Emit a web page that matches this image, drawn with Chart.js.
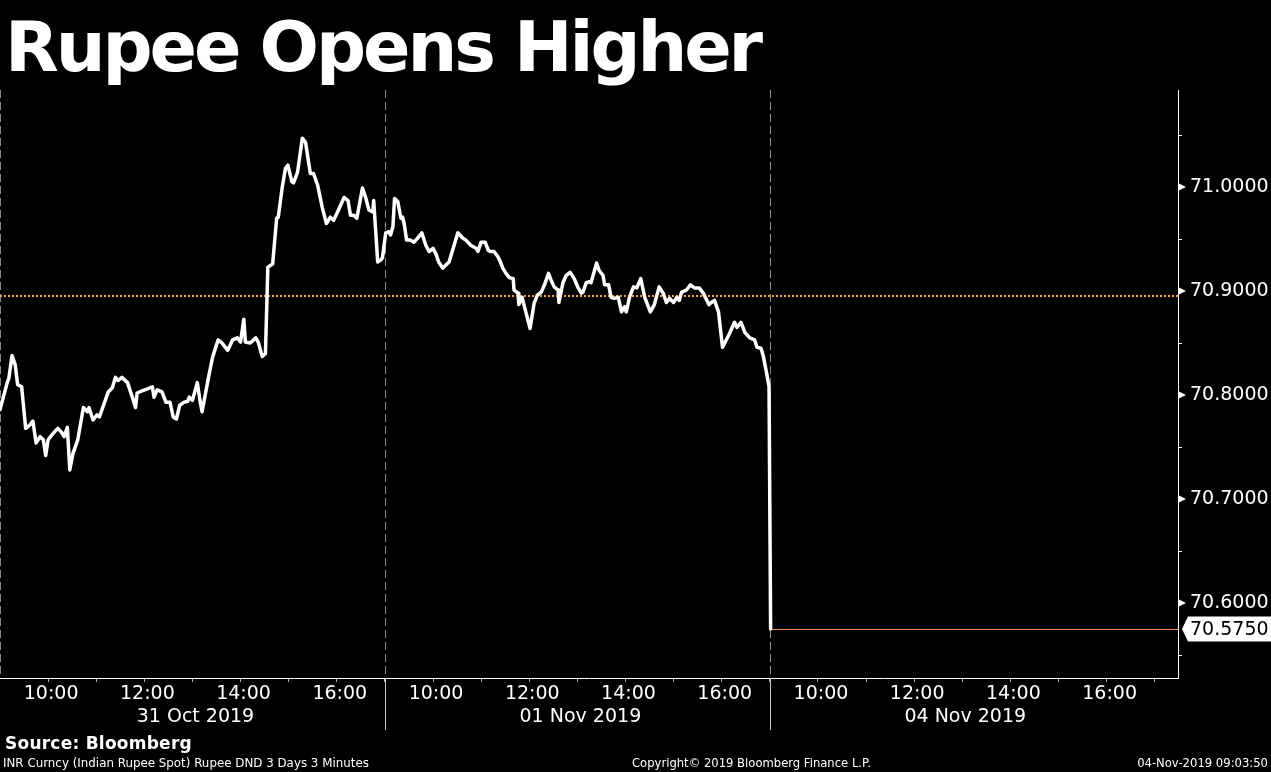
<!DOCTYPE html>
<html><head><meta charset="utf-8">
<script src="https://cdn.jsdelivr.net/npm/chart.js@4.4.1/dist/chart.umd.min.js"></script>
<style>
html,body{margin:0;padding:0;background:#000;}
#wrap{position:relative;width:1271px;height:772px;overflow:hidden;background:#000;}
canvas{position:absolute;left:0;top:0;}
.t{position:absolute;color:#fff;white-space:nowrap;font-family:'DejaVu Sans',sans-serif;}
#title{left:5px;top:12px;font-size:70px;font-weight:bold;line-height:70px;}
#source{left:5px;top:733px;font-size:17px;font-weight:bold;line-height:20px;}
.foot{top:756px;font-size:11px;line-height:14px;}
</style></head>
<body><div id="wrap">
<canvas id="c" width="1271" height="772"></canvas>
<div class="t" id="title" data-w="755" data-mode="ls">Rupee Opens Higher</div>
<div class="t" id="source" data-w="187" data-mode="ls">Source: Bloomberg</div>
<div class="t foot" data-w="366" data-mode="fs" style="left:3px">INR Curncy (Indian Rupee Spot) Rupee DND 3 Days 3 Minutes</div>
<div class="t foot" data-w="239" data-mode="fs" style="left:632px">Copyright© 2019 Bloomberg Finance L.P.</div>
<div class="t foot" data-w="131" data-mode="fs" style="right:3px">04-Nov-2019 09:03:50</div>
</div>
<script>
// ---- data (3-minute bars, minutes after 09:00 for each session) ----
const sessionLabels = ['31 Oct 2019', '01 Nov 2019', '04 Nov 2019'];
const hourLabels = ['10:00', '12:00', '14:00', '16:00'];
const prevClose = 70.895;

const oct31Minutes = [
  0, 9, 11, 15, 19, 22, 27, 32, 37, 41,
  45, 50, 54, 57, 60, 65, 72, 77, 80, 84,
  87, 91, 97, 104, 109, 111, 116, 121, 124, 129,
  135, 140, 144, 147, 152, 159, 165, 169, 171, 177,
  184, 190, 192, 196, 202, 207, 212, 216, 220, 224,
  229, 234, 236, 240, 246, 250, 252, 260, 265, 269,
  272, 277, 284, 290, 296, 300, 304, 306, 312, 319,
  322, 327, 331, 334, 340, 345, 347, 352, 356, 359,
  364, 366, 371, 377, 381, 387, 391, 396, 402, 407,
  412, 416, 421, 429, 434, 437, 441, 445, 452, 456,
  460, 465, 466, 471, 475, 477
];
const oct31Values = [
  70.786, 70.812, 70.816, 70.838, 70.829, 70.810, 70.808, 70.768, 70.771, 70.775,
  70.754, 70.760, 70.757, 70.742, 70.757, 70.762, 70.768, 70.764, 70.760, 70.769,
  70.728, 70.744, 70.757, 70.788, 70.784, 70.788, 70.776, 70.781, 70.779, 70.790,
  70.803, 70.807, 70.817, 70.814, 70.817, 70.812, 70.798, 70.788, 70.802, 70.804,
  70.806, 70.808, 70.798, 70.805, 70.803, 70.793, 70.793, 70.779, 70.777, 70.790,
  70.793, 70.794, 70.798, 70.795, 70.812, 70.792, 70.784, 70.817, 70.836, 70.846,
  70.853, 70.850, 70.843, 70.853, 70.855, 70.851, 70.873, 70.851, 70.850, 70.855,
  70.851, 70.837, 70.840, 70.923, 70.926, 70.970, 70.971, 71.000, 71.018, 71.021,
  71.005, 71.004, 71.014, 71.047, 71.043, 71.013, 71.013, 71.002, 70.980, 70.965,
  70.971, 70.968, 70.976, 70.990, 70.987, 70.973, 70.973, 70.970, 70.999, 70.990,
  70.978, 70.976, 70.987, 70.928, 70.930, 70.932
];
const nov1Minutes = [
  1, 5, 7, 10, 12, 16, 20, 22, 24, 27,
  32, 36, 41, 46, 51, 55, 60, 64, 67, 72,
  76, 80, 91, 97, 101, 107, 114, 116, 120, 125,
  129, 132, 136, 141, 144, 147, 151, 155, 160, 161,
  166, 167, 171, 174, 181, 186, 190, 195, 199, 204,
  207, 211, 216, 217, 222, 226, 231, 236, 241, 245,
  247, 251, 255, 257, 264, 267, 272, 274, 279, 282,
  286, 291, 295, 299, 301, 305, 310, 314, 319, 324,
  331, 336, 342, 347, 351, 355, 360, 364, 367, 370,
  376, 381, 386, 392, 397, 404, 407, 411, 416, 421,
  429, 436, 439, 444, 449, 455, 461, 464, 469, 472,
  476, 479
];
const nov1Values = [
  70.956, 70.957, 70.954, 70.962, 70.989, 70.986, 70.970, 70.971, 70.965, 70.949,
  70.949, 70.947, 70.951, 70.956, 70.944, 70.938, 70.941, 70.935, 70.928, 70.922,
  70.925, 70.928, 70.956, 70.951, 70.949, 70.944, 70.941, 70.938, 70.947, 70.947,
  70.939, 70.938, 70.938, 70.933, 70.928, 70.922, 70.917, 70.913, 70.912, 70.901,
  70.898, 70.887, 70.894, 70.885, 70.864, 70.888, 70.896, 70.899, 70.906, 70.917,
  70.911, 70.904, 70.901, 70.889, 70.908, 70.915, 70.918, 70.912, 70.903, 70.898,
  70.899, 70.908, 70.909, 70.908, 70.927, 70.920, 70.915, 70.906, 70.906, 70.894,
  70.893, 70.894, 70.880, 70.885, 70.880, 70.894, 70.904, 70.903, 70.912, 70.894,
  70.880, 70.887, 70.904, 70.898, 70.889, 70.893, 70.889, 70.894, 70.891, 70.899,
  70.901, 70.906, 70.903, 70.903, 70.898, 70.887, 70.889, 70.891, 70.880, 70.846,
  70.858, 70.870, 70.865, 70.870, 70.860, 70.855, 70.853, 70.846, 70.845, 70.837,
  70.821, 70.808
];
const nov4Minutes = [1];
const nov4Values = [70.575];

// ---- build ----
const SESSION = 480; // 09:00 - 17:00
const sessions = [[oct31Minutes, oct31Values], [nov1Minutes, nov1Values], [nov4Minutes, nov4Values]];
const points = [];
sessions.forEach(([ms, vs], d) => ms.forEach((m, i) => points.push({x: d * SESSION + m, y: vs[i]})));
const lastPoint = points[points.length - 1];

const FONT = "'DejaVu Sans', sans-serif";
Chart.defaults.font.family = FONT;

const overlay = {
  id: 'overlay',
  beforeDatasetsDraw(chart) {
    const {ctx, chartArea: a, scales: {x, y}} = chart;
    ctx.save();
    ctx.lineWidth = 1;
    ctx.strokeStyle = '#8a8a8a';
    ctx.setLineDash([8, 4]);
    sessions.forEach((s, d) => {
      const px = Math.round(x.getPixelForValue(d * SESSION)) + 0.5;
      ctx.beginPath(); ctx.moveTo(px, a.top); ctx.lineTo(px, a.bottom); ctx.stroke();
    });
    ctx.strokeStyle = '#f0a040';
    ctx.lineWidth = 2;
    ctx.setLineDash([2, 2]);
    const py = Math.round(y.getPixelForValue(prevClose));
    ctx.beginPath(); ctx.moveTo(a.left, py); ctx.lineTo(a.right, py); ctx.stroke();
    ctx.setLineDash([]);
    ctx.lineWidth = 1;
    ctx.strokeStyle = '#ff8a50';
    const ly = Math.round(y.getPixelForValue(lastPoint.y)) + 0.5;
    ctx.beginPath(); ctx.moveTo(x.getPixelForValue(lastPoint.x), ly); ctx.lineTo(a.right, ly); ctx.stroke();
    ctx.restore();
  },
  afterDraw(chart) {
    const {ctx, chartArea: a, scales: {x, y}} = chart;
    ctx.save();
    // session separators below the axis
    ctx.strokeStyle = '#c8c8c8';
    ctx.lineWidth = 1;
    for (let d = 1; d < sessions.length; d++) {
      const px = Math.round(x.getPixelForValue(d * SESSION)) + 0.5;
      ctx.beginPath(); ctx.moveTo(px, a.bottom); ctx.lineTo(px, a.bottom + 52); ctx.stroke();
    }
    // arrows on labelled y ticks
    ctx.fillStyle = '#fff';
    y.ticks.forEach(t => {
      if (Math.abs(t.value * 10 - Math.round(t.value * 10)) < 1e-6) {
        const py = y.getPixelForValue(t.value);
        ctx.beginPath();
        ctx.moveTo(a.right + 1, py - 3.5); ctx.lineTo(a.right + 8, py); ctx.lineTo(a.right + 1, py + 3.5);
        ctx.closePath(); ctx.fill();
      }
    });
    // last value box
    const cy = y.getPixelForValue(lastPoint.y);
    ctx.beginPath();
    ctx.moveTo(a.right + 4, cy);
    ctx.lineTo(a.right + 10, cy - 12.5);
    ctx.lineTo(chart.width, cy - 12.5);
    ctx.lineTo(chart.width, cy + 12.5);
    ctx.lineTo(a.right + 10, cy + 12.5);
    ctx.closePath();
    ctx.fillStyle = '#fff';
    ctx.fill();
    ctx.fillStyle = '#000';
    ctx.font = '19px ' + FONT;
    ctx.textBaseline = 'middle';
    ctx.textAlign = 'left';
    ctx.fillText(lastPoint.y.toFixed(4), a.right + 12, cy + 1);
    ctx.restore();
  }
};

new Chart(document.getElementById('c'), {
  type: 'line',
  data: {
    datasets: [{
      data: points,
      borderColor: '#ffffff',
      borderWidth: 3.5,
      pointRadius: 0,
      tension: 0,
      borderJoinStyle: 'round',
      borderCapStyle: 'round'
    }]
  },
  options: {
    responsive: false,
    animation: false,
    devicePixelRatio: 1,
    layout: {padding: {top: 90, left: 0, right: 0, bottom: 34}},
    plugins: {legend: {display: false}, tooltip: {enabled: false}},
    scales: {
      x: {
        type: 'linear',
        min: 0,
        max: 1469,
        afterFit: s => { s.height = 60; },
        afterBuildTicks: s => {
          const t = [];
          for (let d = 0; d < sessions.length; d++) for (let h = 1; h <= 8; h++) t.push({value: d * SESSION + h * 60});
          s.ticks = t;
        },
        border: {display: true, color: '#ffffff', width: 1},
        grid: {drawOnChartArea: false, drawTicks: true, tickLength: 4, color: '#b0b0b0'},
        ticks: {
          autoSkip: false, maxRotation: 0, minRotation: 0, padding: 0,
          labelOffset: 3,
          color: '#ffffff',
          font: {size: 19, lineHeight: 1.22},
          callback: v => {
            const d = Math.floor(v / SESSION);
            const h = Math.round((v - d * SESSION) / 60);
            if (d >= sessions.length) return '';
            if (h === 1 || h === 3 || h === 5 || h === 7) return hourLabels[(h - 1) / 2];
            if (h === 4) return ['', sessionLabels[d]];
            return '';
          }
        }
      },
      y: {
        position: 'right',
        min: 70.528,
        max: 71.0933,
        afterFit: s => { s.width = 93; },
        border: {display: true, color: '#ffffff', width: 1},
        grid: {drawOnChartArea: false, drawTicks: true, tickLength: 4, color: '#ffffff'},
        ticks: {
          stepSize: 0.05,
          includeBounds: false,
          padding: 8,
          color: '#ffffff',
          font: {size: 19},
          callback: v => (Math.abs(v * 10 - Math.round(v * 10)) < 1e-6 ? v.toFixed(4) : '')
        }
      }
    }
  },
  plugins: [overlay]
});

// fit HTML text widths
document.querySelectorAll('[data-w]').forEach(el => {
  const target = +el.dataset.w;
  const w = el.getBoundingClientRect().width;
  if (el.dataset.mode === 'ls') {
    const n = el.textContent.length;
    el.style.letterSpacing = ((target - w) / n).toFixed(2) + 'px';
  } else {
    const fs = parseFloat(getComputedStyle(el).fontSize);
    el.style.fontSize = (fs * target / w).toFixed(2) + 'px';
  }
});
</script>
</body></html>
